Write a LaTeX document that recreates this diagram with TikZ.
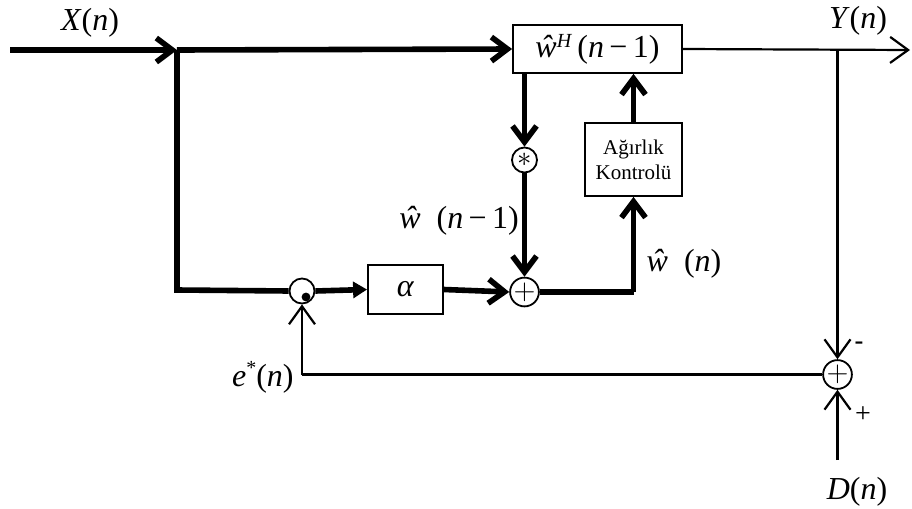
\documentclass[tikz,border=0pt]{standalone}
\usepackage{fontspec}
\setmainfont{Liberation Serif}
\setsansfont{Liberation Sans}
\usepackage{tikz}
\usetikzlibrary{arrows.meta,calc}

\begin{document}
\begin{tikzpicture}[x={(0.5pt,0)},y={(0,-0.5pt)},
    thk/.style={line width=2.8pt},
    thn/.style={line width=1.1pt},
    barb/.style={-{Straight Barb[length=8pt,width=12pt]}},
    tbarb/.style={-{Straight Barb[length=9pt,width=13pt]}},
    tri/.style={-{Triangle[length=7pt,width=8pt]}},
    blk/.style={draw,line width=0.9pt,inner sep=0pt,fill=white},
    circ/.style={draw,circle,line width=0.9pt,inner sep=0pt,minimum size=12.5pt,
      font=\fontsize{15}{15}\selectfont},
    lbl/.style={font=\fontsize{16}{19}\selectfont,inner sep=1pt}]
  \useasboundingbox (0,0) rectangle (912,509);
  % blocks and junctions
  \node[blk,minimum width=84.5pt,minimum height=24pt,font=\fontsize{16}{19}\selectfont]
    (wH) at (597.5,49) {\textit{ŵ}\raisebox{5pt}{\fontsize{10}{10}\selectfont\textit{H}}\,(\textit{n}\,−\,1)};
  \node[blk,minimum width=48.5pt,minimum height=36.5pt,align=center,
    font=\fontsize{10.5}{12.5}\selectfont] (ctrl) at (633.5,159.5) {Ağırlık\\Kontrolü};
  \node[blk,minimum width=37.5pt,minimum height=24.5pt,font=\fontsize{16}{19}\selectfont]
    (alpha) at (405.5,289.5) {\textit{α}};
  \node[circ] (dot) at (302,291) {};
  \fill (dot.center) ++(4,6) circle (2.2pt);
  \node[circ] (conj) at (524.5,160) {$\ast$};
  \node[circ] (sum1) at (524.5,292) {$+$};
  \node[circ] (sum2) at (837.5,374.5) {$+$};
  \coordinate (in) at (10,50);
  \coordinate (split) at (177,50);
  \coordinate (low) at (177,290);
  \coordinate (turn) at (ctrl |- sum1);
  \coordinate (out) at (910,50);
  \coordinate (tap) at (sum2 |- out);
  \coordinate (dsrc) at ($(sum2)+(0,85.5)$);
  \coordinate (ecorner) at (dot |- sum2);
  % thick paths
  \draw[thk,barb] (in) -- (split);
  \draw[thk,barb] (split) -- (wH.west);
  \draw[thk] (split) -- (low) -- (dot.west);
  \draw[thk,tri] (dot.east) -- (alpha.west);
  \draw[thk,barb] (alpha.east) -- (sum1.west);
  \draw[thk,barb] (wH.south -| conj) -- (conj.north);
  \draw[thk,barb] (conj.south) -- (sum1.north);
  \draw[thk] (sum1.east) -- (turn);
  \draw[thk,barb] (turn) -- (ctrl.south);
  \draw[thk,barb] (ctrl.north) -- (ctrl.north |- wH.south);
  % thin paths
  \draw[thn,tbarb] (wH.east) -- (out);
  \draw[thn,tbarb] (tap) -- (sum2.north);
  \draw[thn,tbarb] (dsrc) -- (sum2.south);
  \draw[thn] (sum2.west) -- (ecorner);
  \draw[thn,tbarb] (ecorner) -- (dot.south);
  % labels
  \node[lbl] (xlbl) at (90,23) {\textit{X}(\textit{n})};
  \node[lbl] (ylbl) at (858,21) {\textit{Y}(\textit{n})};
  \node[lbl] (dlbl) at (857,492) {\textit{D}(\textit{n})};
  \node[lbl,anchor=east] (elbl) at (296,377) {\textit{e}\raisebox{6pt}{\fontsize{10}{10}\selectfont *}(\textit{n})};
  \node[lbl] (wm1) at (459,221) {\textit{ŵ}\enspace(\textit{n}\,−\,1)};
  \node[lbl] (wn) at (684,264) {\textit{ŵ}\enspace(\textit{n})};
  \node[font=\sffamily\fontsize{14}{15}\selectfont,inner sep=0pt] (minus) at (859,346) {-};
  \node[font=\fontsize{14}{15}\selectfont,inner sep=0pt] (plus) at (863,415) {+};
\end{tikzpicture}
\end{document}
